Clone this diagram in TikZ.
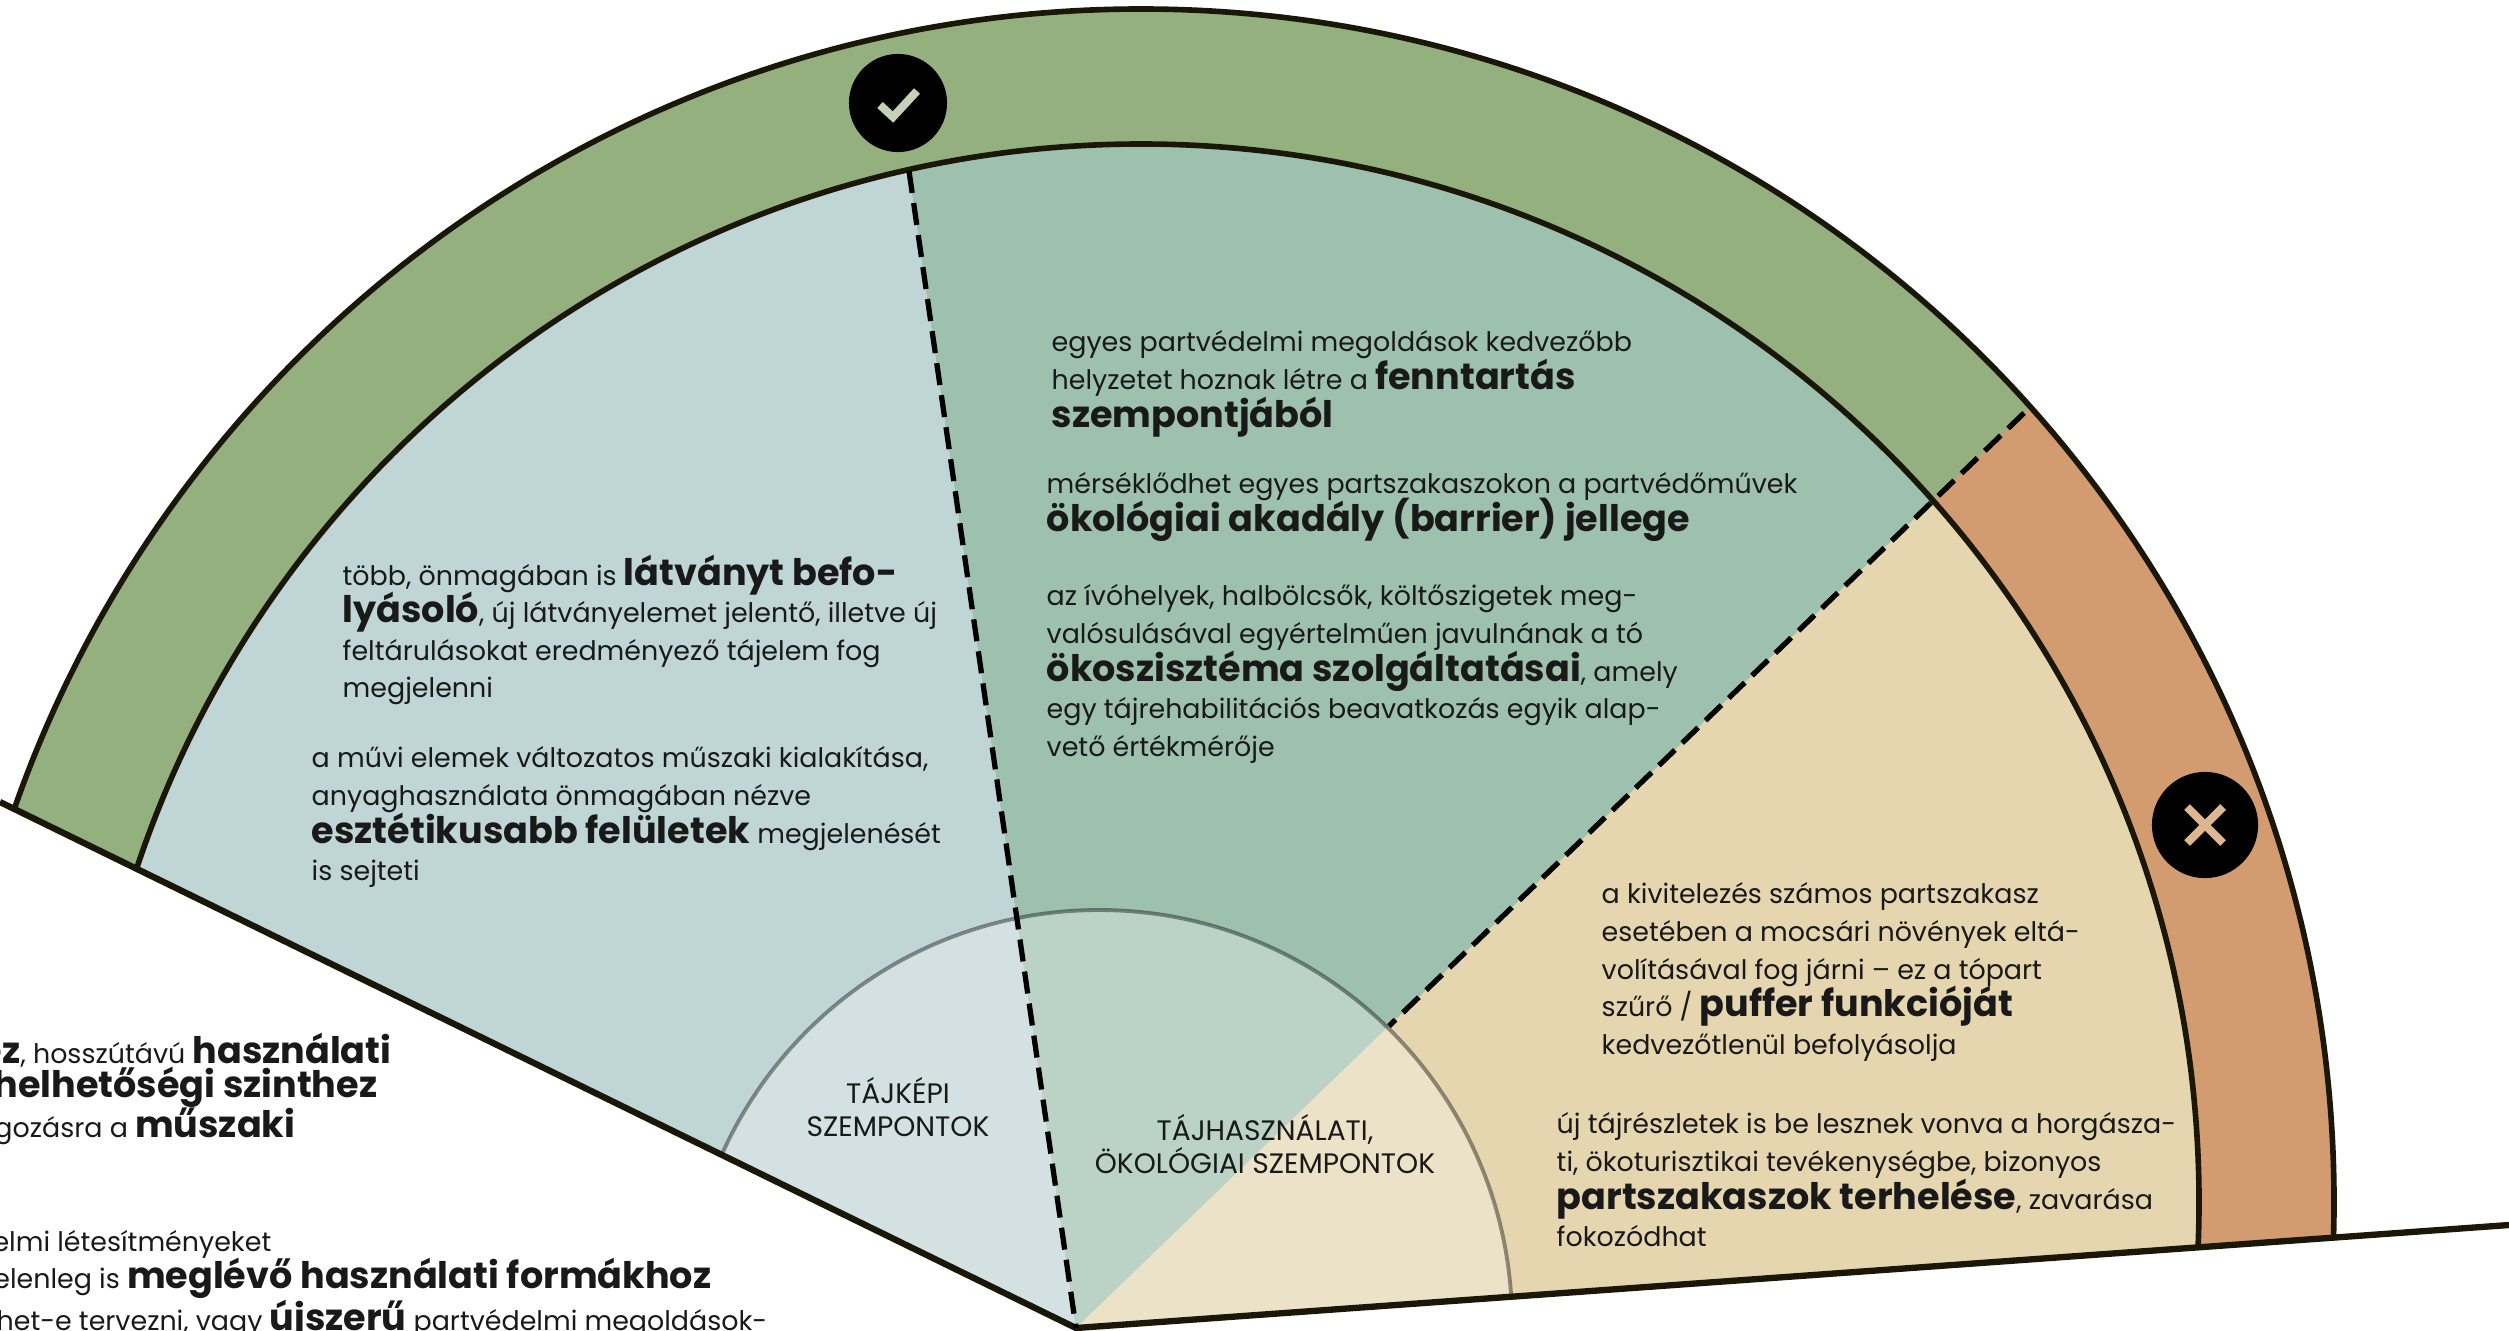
\documentclass[tikz,border=0pt]{standalone}
\usepackage{fontspec}
\usetikzlibrary{calc}
\setmainfont{Poppins}
\definecolor{ringgreen}{HTML}{94B07F}
\definecolor{ringorange}{HTML}{D29C70}
\definecolor{secleft}{HTML}{C0D5D6}
\definecolor{secmid}{HTML}{9DC1AE}
\definecolor{secright}{HTML}{E5D6B0}
\definecolor{edgeink}{HTML}{1A1708}
\definecolor{okmark}{HTML}{C5D2B8}
\definecolor{nomark}{HTML}{DDB590}
\newcommand{\kiem}[1]{{\fontsize{10.4}{10}\selectfont\bfseries #1}}
\newcommand{\txtfont}{\fontsize{7.65}{10.7}\selectfont\lineskiplimit=-20pt\relax}
\newcommand{\titlefont}{\fontsize{8}{9.4}\selectfont\lineskiplimit=-20pt\relax}
\tikzset{
  txtblock/.style={font=\txtfont, align=left, anchor=north west, text=black!90},
  cutline/.style={font=\txtfont, anchor=east, text=black!90},
  sectitle/.style={font=\titlefont, align=center, text=black!90},
  iconbase/.style={circle, fill=black},
  edgeline/.style={edgeink, line width=1.8pt},
  arcline/.style={edgeink, line width=1.6pt},
  dashline/.style={black, line width=1.5pt, dash pattern=on 6.3pt off 2.9pt},
  markline/.style={line width=2.3pt}
}
\begin{document}
\begin{tikzpicture}[x=0.01cm,y=0.01cm]
\tikzstyle{every node}+=[inner sep=0pt]
\useasboundingbox (0,0) rectangle (2509,-1330);
\coordinate (apex) at (1076,-1328);
\coordinate (leftend) at (-200,-704);
\coordinate (rightend) at (2709,-1211);
\coordinate (ringcentre) at (1141,-1202);
\coordinate (smallcentre) at (1099,-1323);
\coordinate (topdash) at (909,-171);
\coordinate (rightdash) at (2024,-413);
\coordinate (midstop) at (1389,-1026);
\begin{scope}
\clip (apex) -- (leftend) -- (-200,100) -- (2709,100) -- (rightend) -- cycle;
\begin{scope}
\clip (ringcentre) circle (1193);
\fill [ringgreen] (-200,100) rectangle (2709,-1400);
\fill [ringorange] (apex) -- ($(apex)!1.3!(rightdash)$) -- (2709,-200) -- (rightend) -- cycle;
\clip (ringcentre) circle (1058);
\fill [secleft] (apex) -- ($(apex)!1.2!(topdash)$) -- (-200,100) -- (leftend) -- cycle;
\fill [secmid] (apex) -- ($(apex)!1.2!(topdash)$) -- (2709,100) -- ($(apex)!1.3!(rightdash)$) -- cycle;
\fill [secright] (apex) -- ($(apex)!1.3!(rightdash)$) -- (2709,-200) -- (rightend) -- cycle;
\end{scope}
\fill [white, opacity=0.3] (smallcentre) circle (413);
\draw [black, opacity=0.4, line width=1.1pt] (smallcentre) circle (413);
\draw [arcline] (ringcentre) circle (1193);
\draw [arcline] (ringcentre) circle (1058);
\end{scope}
\draw [edgeline] (0,-802) -- (apex) -- (2509,-1225);
\draw [dashline] (topdash) -- (apex);
\draw [dashline] (rightdash) -- (midstop);
\node [iconbase, minimum size=27.9pt] (okicon) at (898,-103) {};
\draw [okmark, markline] (880,-105) -- (893,-117) -- (917,-91);
\node [iconbase, minimum size=30.2pt] (noicon) at (2205,-825) {};
\draw [nomark, markline] (2187,-807) -- (2223,-843);
\draw [nomark, markline] (2223,-807) -- (2187,-843);
\node [txtblock] (latvany) at (342,-554) {több, önmagában is \kiem{látványt befo-}\\\kiem{lyásoló}, új látványelemet jelentő, illetve új\\feltárulásokat eredményező tájelem fog\\megjelenni};
\node [txtblock] (muvi) at (311,-746) {a művi elemek változatos műszaki kialakítása,\\anyaghasználata önmagában nézve\\\kiem{esztétikusabb felületek} megjelenését\\is sejteti};
\node [txtblock] (fenntartas) at (1051,-330) {egyes partvédelmi megoldások kedvezőbb\\helyzetet hoznak létre a \kiem{fenntartás}\\\kiem{szempontjából}};
\node [txtblock] (barrier) at (1046,-472) {mérséklődhet egyes partszakaszokon a partvédőművek\\\kiem{ökológiai akadály (barrier) jellege}};
\node [txtblock] (ivohely) at (1046,-584) {az ívóhelyek, halbölcsők, költőszigetek meg-\\valósulásával egyértelműen javulnának a tó\\\kiem{ökoszisztéma szolgáltatásai}, amely\\egy tájrehabilitációs beavatkozás egyik alap-\\vető értékmérője};
\node [txtblock] (puffer) at (1601,-882) {a kivitelezés számos partszakasz\\esetében a mocsári növények eltá-\\volításával fog járni – ez a tópart\\szűrő / \kiem{puffer funkcióját}\\kedvezőtlenül befolyásolja};
\node [txtblock] (terheles) at (1556,-1112) {új tájrészletek is be lesznek vonva a horgásza-\\ti, ökoturisztikai tevékenységbe, bizonyos\\\kiem{partszakaszok terhelése}, zavarása\\fokozódhat};
\node [sectitle] (tajkepi) at (898,-1107) {TÁJKÉPI\\SZEMPONTOK};
\node [sectitle] (tajhasz) at (1265,-1144) {TÁJHASZNÁLATI,\\ÖKOLÓGIAI SZEMPONTOK};
\node [cutline] (cuta) at (392,-1050) {\kiem{ez}, hosszútávú \kiem{használati}};
\node [cutline] (cutb) at (378,-1087) {\kiem{helhetőségi szinthez}};
\node [cutline] (cutc) at (296,-1126) {gozásra a \kiem{műszaki}};
\node [cutline] (cutd) at (272,-1244) {elmi létesítményeket};
\node [cutline] (cute) at (712,-1278) {elenleg is \kiem{meglévő használati formákhoz}};
\node [cutline] (cutf) at (768,-1320) {het-e tervezni, vagy \kiem{újszerű} partvédelmi megoldások-};
\end{tikzpicture}
\end{document}
